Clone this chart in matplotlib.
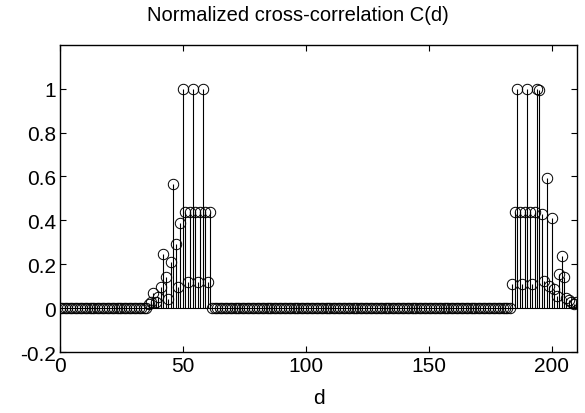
import numpy as np
import matplotlib
matplotlib.use('Agg')
from matplotlib import pyplot as plt

plt.rcParams['font.family'] = ['Liberation Sans', 'DejaVu Sans']

# lag values d = 0..210, C(d) zero except for two clusters
lags = np.arange(0, 211)

left_lags = [36, 37, 38, 39, 40, 41, 42, 43, 44, 45, 46, 47, 48, 49,
             50, 51, 52, 53, 54, 55, 56, 57, 58, 59, 60, 61]
left_vals = [0.02, 0.03, 0.071, 0.03, 0.049, 0.094, 0.245, 0.14, 0.04, 0.212, 0.564, 0.294, 0.094, 0.39,
             1.0, 0.44, 0.117, 0.44, 1.0, 0.44, 0.117, 0.44, 1.0, 0.44, 0.117, 0.44]

right_lags = [184, 185, 186, 187, 188, 189, 190, 191, 192, 193, 194, 195, 196, 197,
              198, 199, 200, 201, 202, 203, 204, 205, 206, 207, 208, 209, 210]
right_vals = [0.109, 0.44, 1.0, 0.44, 0.109, 0.44, 1.0, 0.44, 0.109, 0.44, 1.0, 0.995, 0.427, 0.124,
              0.594, 0.10, 0.409, 0.086, 0.056, 0.155, 0.237, 0.14, 0.045, 0.038, 0.026, 0.018, 0.028]

corr = np.zeros(len(lags))
corr[left_lags] = left_vals
corr[right_lags] = right_vals

fig = plt.figure(figsize=(5.85, 4.14), dpi=100)
ax = fig.add_axes([0.1026, 0.1473, 0.8842, 0.7423])

markers, stems, base = ax.stem(lags, corr, linefmt='k-', markerfmt='ko', basefmt='k-')
plt.setp(markers, markerfacecolor='none', markeredgecolor='black', markersize=7.5, markeredgewidth=0.7)
plt.setp(stems, linewidth=0.8)
plt.setp(base, linewidth=0.8)

ax.set_xlim(0, 210.4)
ax.set_ylim(-0.2, 1.2)
ax.set_xticks([0, 50, 100, 150, 200])
ax.set_yticks([-0.2, 0, 0.2, 0.4, 0.6, 0.8, 1])
ax.set_yticklabels(['-0.2', '0', '0.2', '0.4', '0.6', '0.8', '1'])
ax.tick_params(direction='in', length=4, width=0.8, top=True, right=True, labelsize=15, pad=3)
for s in ax.spines.values():
    s.set_linewidth(1.0)

ax.set_xlabel('d', fontsize=15, labelpad=9)
ax.set_title('Normalized cross-correlation C(d)', fontsize=14.5, pad=18, x=0.46)

fig.savefig('out.png', dpi=100)
